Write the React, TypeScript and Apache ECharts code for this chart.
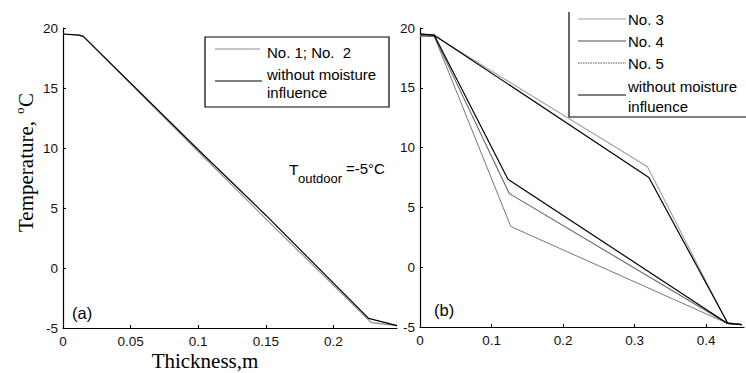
import React, { useEffect, useRef } from "react";
import * as echarts from "echarts";

// Panel (a)
const aWithoutX = [0, 0.012, 0.015, 0.1, 0.15, 0.226, 0.247];
const aWithoutT = [19.5, 19.4, 19.3, 9.85, 4.4, -4.2, -4.8];
const aNo12X = [0, 0.012, 0.015, 0.1, 0.15, 0.228, 0.247];
const aNo12T = [19.5, 19.4, 19.3, 9.7, 4.1, -4.55, -4.8];

// Panel (b)
const bWithoutUpperX = [0, 0.02, 0.32, 0.43, 0.45];
const bWithoutUpperT = [19.5, 19.4, 7.5, -4.65, -4.8];
const bNo3X = [0, 0.02, 0.318, 0.43, 0.45];
const bNo3T = [19.4, 19.35, 8.4, -4.7, -4.8];
const bWithoutLowerX = [0, 0.02, 0.123, 0.43, 0.45];
const bWithoutLowerT = [19.5, 19.4, 7.35, -4.7, -4.8];
const bNo4X = [0, 0.02, 0.125, 0.43, 0.45];
const bNo4T = [19.4, 19.3, 6.15, -4.7, -4.8];
const bNo5X = [0, 0.02, 0.127, 0.43, 0.45];
const bNo5T = [19.3, 19.3, 3.4, -4.7, -4.8];

const yTicks = [-5, 0, 5, 10, 15, 20];

const zip = (xs: number[], ys: number[]) => xs.map((x, i) => [x, ys[i]]);

const SANS = "'Liberation Sans', Arial, sans-serif";
const SERIF = "'Liberation Serif', 'Times New Roman', serif";

export default function App() {
  const ref = useRef<HTMLDivElement>(null);
  useEffect(() => {
    if (!ref.current) return;
    const chart = echarts.init(ref.current, null, { renderer: "svg" });

    const axisCommon = {
      axisLine: { show: true, onZero: false, lineStyle: { color: "#000", width: 1.2 } },
      axisTick: { show: true, inside: true, length: 3, lineStyle: { color: "#000" } },
      splitLine: { show: false },
      axisLabel: { color: "#111", fontFamily: SANS, fontSize: 13.5 },
    };

    const yAxisDef = (gi: number) => ({
      type: "value",
      gridIndex: gi,
      min: yTicks[0],
      max: yTicks[yTicks.length - 1],
      interval: 5,
      ...axisCommon,
      axisLabel: { ...axisCommon.axisLabel, margin: 5 },
    });

    const line = (gi: number, data: number[][], color: string, width: number, type: any = "solid", z = 2) => ({
      type: "line",
      xAxisIndex: gi,
      yAxisIndex: gi,
      data,
      showSymbol: false,
      symbol: "none",
      lineStyle: { color, width, type },
      z,
    });

    const legendLine = (x1: number, x2: number, y: number, color: string, width: number, dash?: number[]) => ({
      type: "line",
      shape: { x1, y1: y, x2, y2: y },
      style: { stroke: color, lineWidth: width, lineDash: dash },
      z: 10,
    });
    const txt = (x: number, y: number, text: string, size = 15, font = SANS, extra: any = {}) => ({
      type: "text",
      x,
      y,
      style: { text, fill: "#000", font: `${size}px ${font}`, textVerticalAlign: "middle", ...extra },
      z: 10,
    });

    chart.setOption({
      animation: false,
      backgroundColor: "#fff",
      grid: [
        { left: 63, top: 28, width: 334, height: 300, containLabel: false },
        { left: 420, top: 28, width: 324, height: 299, containLabel: false },
      ],
      xAxis: [
        {
          type: "value",
          gridIndex: 0,
          min: 0,
          max: 0.247,
          interval: 0.05,
          ...axisCommon,
          axisLabel: { ...axisCommon.axisLabel, margin: 6, showMaxLabel: false },
        },
        {
          type: "value",
          gridIndex: 1,
          min: 0,
          max: 0.453,
          interval: 0.1,
          ...axisCommon,
          axisLabel: { ...axisCommon.axisLabel, margin: 6, showMaxLabel: false },
        },
      ],
      yAxis: [yAxisDef(0), yAxisDef(1)],
      series: [
        line(0, zip(aNo12X, aNo12T), "#8a8a8a", 1.1),
        line(0, zip(aWithoutX, aWithoutT), "#000", 1.2),
        line(1, zip(bNo3X, bNo3T), "#a0a0a0", 1.1),
        line(1, zip(bWithoutUpperX, bWithoutUpperT), "#000", 1.2),
        line(1, zip(bNo5X, bNo5T), "#777", 1.0),
        line(1, zip(bNo4X, bNo4T), "#666", 1.1),
        line(1, zip(bWithoutLowerX, bWithoutLowerT), "#000", 1.2),
      ],
      graphic: [
        // legend (a)
        {
          type: "rect",
          shape: { x: 205, y: 37, width: 184, height: 70 },
          style: { fill: "#fff", stroke: "#000", lineWidth: 1.2 },
          z: 9,
        },
        legendLine(215, 260, 49, "#8a8a8a", 1),
        legendLine(215, 262, 81, "#000", 1.2),
        txt(267, 52, "No. 1; No.  2"),
        txt(267, 74, "without moisture"),
        txt(267, 92, "influence"),
        // legend (b)
        {
          type: "rect",
          shape: { x: 569, y: 12, width: 180, height: 105 },
          style: { fill: "#fff", stroke: "none" },
          z: 9,
        },
        {
          type: "polyline",
          shape: { points: [[569, 12], [569, 117], [746, 117]] },
          style: { stroke: "#000", fill: "none", lineWidth: 1.2 },
          z: 10,
        },
        legendLine(578, 626, 19, "#a0a0a0", 1),
        legendLine(578, 626, 41, "#888", 1.4),
        legendLine(578, 626, 63, "#555", 1, [1.5, 1]),
        legendLine(578, 626, 95, "#000", 1.2),
        txt(628, 19, "No. 3"),
        txt(628, 41, "No. 4"),
        txt(628, 63, "No. 5"),
        txt(628, 86, "without moisture"),
        txt(628, 106, "influence"),
        // annotation T_outdoor
        txt(289, 169, "T", 15.5),
        txt(298, 178, "outdoor", 13),
        txt(346, 168, "=-5°C", 15),
        // panel tags
        txt(72, 313, "(a)", 16.5),
        txt(434, 310, "(b)", 16.5),
        // x axis title
        {
          type: "text",
          x: 205,
          y: 361,
          style: { text: "Thickness,m", fill: "#000", font: `21px ${SERIF}`, textAlign: "center", textVerticalAlign: "middle" },
        },
        // y axis title (rotated)
        {
          type: "group",
          x: 26,
          y: 232,
          rotation: Math.PI / 2,
          children: [
            { type: "text", x: 0, y: 0, style: { text: "Temperature, ", fill: "#000", font: `21px ${SERIF}`, textVerticalAlign: "middle" } },
            { type: "text", x: 118, y: -7, style: { text: "o", fill: "#000", font: `13px ${SERIF}`, textVerticalAlign: "middle" } },
            { type: "text", x: 125, y: 0, style: { text: "C", fill: "#000", font: `21px ${SERIF}`, textVerticalAlign: "middle" } },
          ],
        },
      ],
    });
    return () => chart.dispose();
  }, []);
  return <div ref={ref} style={{ position: "fixed", left: 0, top: 0, width: 746, height: 373, background: "#fff" }} />;
}
